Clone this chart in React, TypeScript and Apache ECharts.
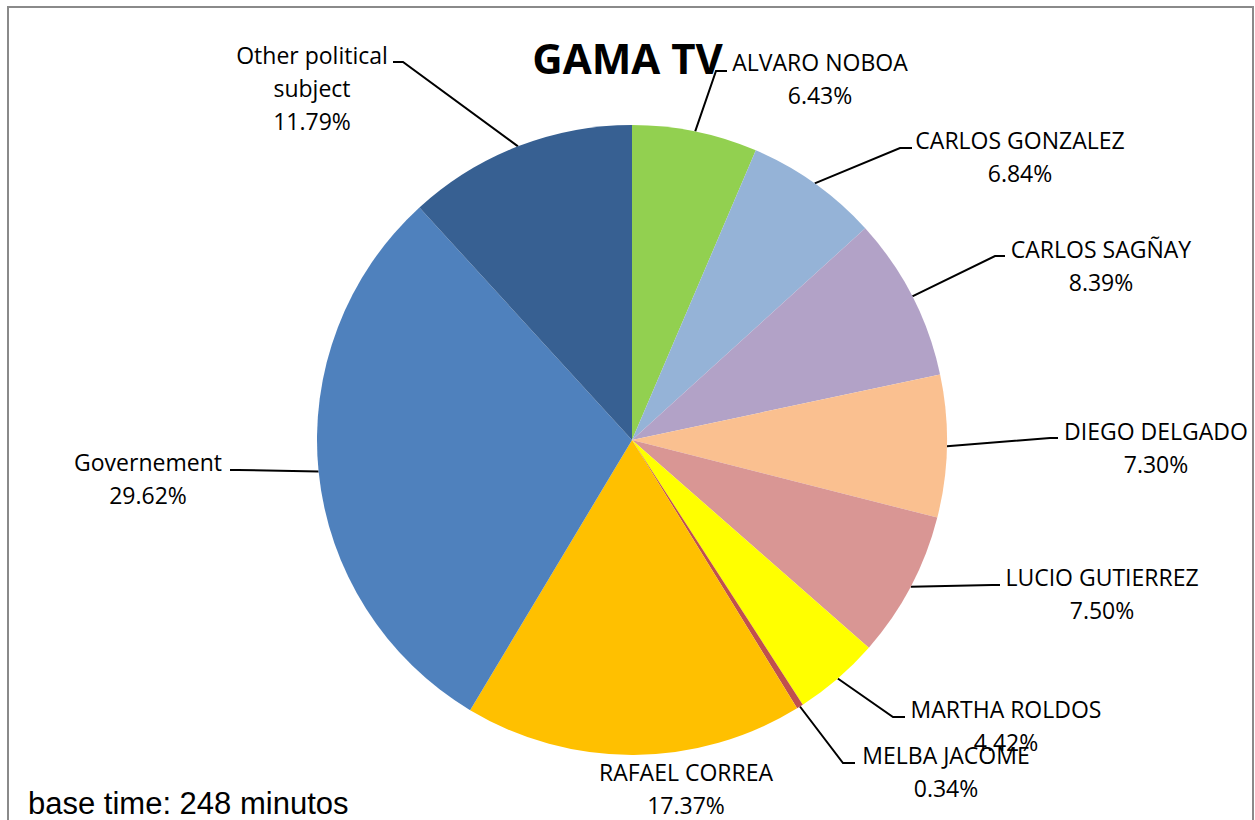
import React, { useEffect, useRef } from 'react';
import * as echarts from 'echarts';

const names = [
  'ALVARO NOBOA',
  'CARLOS GONZALEZ',
  'CARLOS SAGÑAY',
  'DIEGO DELGADO',
  'LUCIO GUTIERREZ',
  'MARTHA ROLDOS',
  'MELBA JACOME',
  'RAFAEL CORREA',
  'Governement',
  'Other political subject',
];
const shares = [6.43, 6.84, 8.39, 7.3, 7.5, 4.42, 0.34, 17.37, 29.62, 11.79];
const colors = [
  '#92D050', '#95B3D7', '#B2A2C7', '#FAC090', '#D99694',
  '#FFFF00', '#C0504D', '#FFC000', '#4F81BD', '#376092',
];

const chartTitle = 'GAMA TV';
const footNote = 'base time: 248 minutos';

// label placement: centre x, first line centre y
const labelAnchors: number[][] = [
  [820, 62], [1020, 140], [1101, 249], [1156, 431], [1102, 577],
  [1006, 709], [946, 755], [686, 772], [148, 462], [312, 55],
];
// leader line elbow + end point (start comes from the slice edge)
const leaderBends: (number[][] | null)[] = [
  [[716, 71], [727, 71]],
  [[900, 148], [912, 148]],
  [[995, 256], [1005, 256]],
  [[1050, 438], [1058, 438]],
  [[992, 585], [1000, 585]],
  [[893, 717], [905, 717]],
  [[843, 763], [855, 763]],
  null,
  [[238, 470], [230, 470]],
  [[403, 62], [393, 62]],
];

const CX = 632;
const CY = 440;
const R = 315;
const LINE_H = 33;

export default function App() {
  const ref = useRef<HTMLDivElement>(null);

  useEffect(() => {
    if (!ref.current) return;
    const chart = echarts.init(ref.current, null, { renderer: 'svg' });

    const total = shares.reduce((a, b) => a + b, 0);
    const edgePoints: number[][] = [];
    let cum = 0;
    shares.forEach((v) => {
      const mid = cum + v / 2;
      cum += v;
      const ang = (90 - (mid / total) * 360) * (Math.PI / 180);
      edgePoints.push([CX + R * Math.cos(ang), CY - R * Math.sin(ang)]);
    });

    const data = names.map((n, i) => ({
      name: n,
      value: shares[i],
      itemStyle: { color: colors[i] },
      labelLine: { show: leaderBends[i] !== null },
    }));

    chart.setOption({
      animation: false,
      backgroundColor: '#ffffff',
      title: {
        text: chartTitle,
        left: 'center',
        top: 31,
        textStyle: {
          fontFamily: '"Open Sans", sans-serif',
          fontSize: 42,
          fontWeight: 'bold',
          color: '#000',
        },
      },
      graphic: [
        {
          type: 'rect',
          silent: true,
          z: -10,
          shape: { x: 8, y: 7, width: 1245, height: 830 },
          style: { fill: 'none', stroke: '#8a8a8a', lineWidth: 2 },
        },
        {
          type: 'text',
          x: 28,
          y: 803,
          style: {
            text: footNote,
            font: '31px "Liberation Sans", Arial, sans-serif',
            fill: '#000',
            textVerticalAlign: 'middle',
          },
        },
      ],
      series: [
        {
          type: 'pie',
          center: [CX, CY],
          radius: R,
          startAngle: 90,
          clockwise: true,
          avoidLabelOverlap: false,
          data,
          label: {
            show: true,
            position: 'outer',
            color: '#000',
            fontFamily: '"Open Sans", sans-serif',
            fontSize: 23,
            lineHeight: LINE_H,
            align: 'center',
            formatter: (p: any) =>
              `${String(p.name).replace('political ', 'political\n')}\n${Number(p.value).toFixed(2)}%`,
          },
          labelLine: {
            show: true,
            lineStyle: { color: '#000', width: 2 },
          },
          labelLayout: (params: any) => {
            const i = params.dataIndex;
            const [ax, ay] = labelAnchors[i];
            const out: any = {
              x: ax,
              y: ay - LINE_H / 2,
              align: 'center',
              verticalAlign: 'top',
            };
            const bend = leaderBends[i];
            if (bend) {
              out.labelLinePoints = [edgePoints[i], bend[0], bend[1]];
            }
            return out;
          },
        },
      ],
    });

    return () => chart.dispose();
  }, []);

  return (
    <div
      ref={ref}
      style={{ position: 'fixed', left: 0, top: 0, width: 1255, height: 820 }}
    />
  );
}
